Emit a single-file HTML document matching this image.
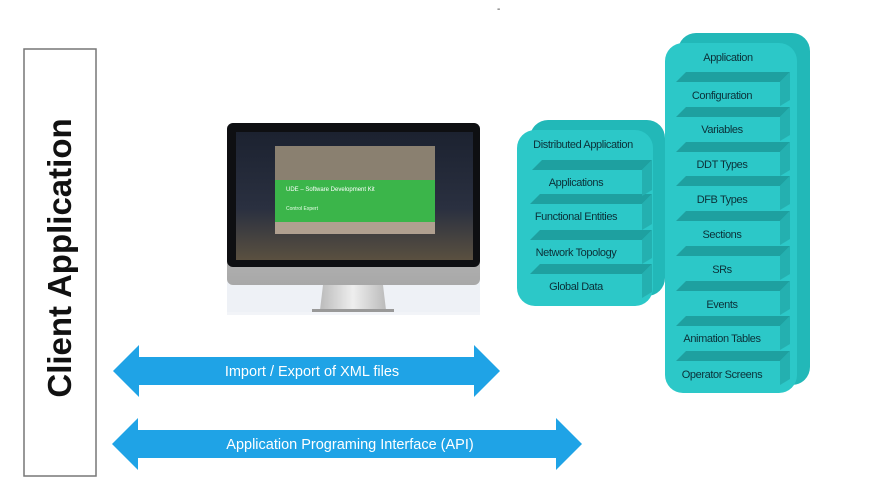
<!DOCTYPE html>
<html><head><meta charset="utf-8"><style>
html,body{margin:0;padding:0;background:#fff;width:880px;height:490px;overflow:hidden}
svg{display:block}
text{font-family:"Liberation Sans",sans-serif}
</style></head><body>
<svg width="880" height="490" viewBox="0 0 880 490" xmlns="http://www.w3.org/2000/svg">
<defs>
<linearGradient id="scr" x1="0" y1="0" x2="0" y2="1"><stop offset="0" stop-color="#1c2230"/><stop offset="0.6" stop-color="#2a3040"/><stop offset="1" stop-color="#5a5040"/></linearGradient>
<linearGradient id="chin" x1="0" y1="0" x2="0" y2="1"><stop offset="0" stop-color="#d8d8d8"/><stop offset="1" stop-color="#a8a8a8"/></linearGradient>
<linearGradient id="stand" x1="0" y1="0" x2="1" y2="0"><stop offset="0" stop-color="#bbb"/><stop offset="0.5" stop-color="#eee"/><stop offset="1" stop-color="#bbb"/></linearGradient>
</defs>
<text x="497" y="12" font-size="10" fill="#333">-</text>
<!-- client box -->
<rect x="24" y="49" width="72" height="427" fill="#fff" stroke="#777" stroke-width="1.5"/>
<text transform="translate(71,258) rotate(-90)" text-anchor="middle" font-size="33" font-weight="bold" fill="#111">Client Application</text>
<!-- monitor -->
<rect x="227" y="311" width="253" height="4" fill="#f2f4f8"/>
<rect x="227" y="268" width="253" height="44" fill="#eef1f6"/>
<polygon points="323,285 383,285 386,310 320,310" fill="url(#stand)"/>
<rect x="312" y="309" width="82" height="3" fill="#999"/>
<rect x="227" y="123" width="253" height="162" rx="6" fill="url(#chin)"/>
<rect x="227" y="123" width="253" height="144" rx="6" fill="#0e0f12"/>
<rect x="236" y="132" width="237" height="128" fill="url(#scr)"/>
<rect x="275" y="146" width="160" height="34" fill="#8a8070"/>
<rect x="275" y="180" width="160" height="42" fill="#3bb54a"/>
<rect x="275" y="222" width="160" height="12" fill="#b0a090"/>
<text x="286" y="191" font-size="6" fill="#fff">UDE – Software Development Kit</text>
<text x="286" y="210" font-size="5" fill="#e8ffe8">Control Expert</text>
<!-- arrows -->
<polygon points="113,371 139,345 139,357 474,357 474,345 500,371 474,397 474,385 139,385 139,397" fill="#1fa3e6"/>
<text x="312" y="376" text-anchor="middle" font-size="14.5" fill="#fff">Import / Export of XML files</text>
<polygon points="112,444 138,418 138,430 556,430 556,418 582,444 556,470 556,458 138,458 138,470" fill="#1fa3e6"/>
<text x="350" y="449" text-anchor="middle" font-size="14.5" fill="#fff">Application Programing Interface (API)</text>
<!-- left stack -->
<rect x="530" y="120" width="135" height="176" rx="18" fill="#22b8b8"/>
<rect x="517" y="130" width="136" height="176" rx="18" fill="#2cc8c8"/>
<g fill="#1ea0a0">
<polygon points="542,160 652,160 642,170 532,170"/><polygon points="540,194 652,194 642,204 530,204"/><polygon points="540,230 652,230 642,240 530,240"/><polygon points="540,264 652,264 642,274 530,274"/>
</g>
<g fill="#24b0b0">
<polygon points="642,170 652,160 652,190 642,196"/><polygon points="642,204 652,194 652,224 642,230"/><polygon points="642,240 652,230 652,258 642,264"/><polygon points="642,274 652,264 652,292 642,298"/>
</g>
<g font-size="11" fill="#0b3038" text-anchor="middle" letter-spacing="-0.4">
<text x="583" y="148">Distributed Application</text>
<text x="576" y="186">Applications</text>
<text x="576" y="220">Functional Entities</text>
<text x="576" y="256">Network Topology</text>
<text x="576" y="290">Global Data</text>
</g>
<!-- right stack -->
<rect x="678" y="33" width="132" height="352" rx="18" fill="#22b8b8"/>
<rect x="665" y="43" width="132" height="350" rx="18" fill="#2cc8c8"/>
<g fill="#1ea0a0">
<polygon points="686,72 790,72 780,82 676,82"/><polygon points="686,107 790,107 780,117 676,117"/><polygon points="686,142 790,142 780,152 676,152"/><polygon points="686,176 790,176 780,186 676,186"/><polygon points="686,211 790,211 780,221 676,221"/><polygon points="686,246 790,246 780,256 676,256"/><polygon points="686,281 790,281 780,291 676,291"/><polygon points="686,316 790,316 780,326 676,326"/><polygon points="686,351 790,351 780,361 676,361"/>
</g>
<g fill="#24b0b0">
<polygon points="780,82 790,72 790,100 780,106"/><polygon points="780,117 790,107 790,135 780,141"/><polygon points="780,152 790,142 790,170 780,176"/><polygon points="780,186 790,176 790,204 780,210"/><polygon points="780,221 790,211 790,239 780,245"/><polygon points="780,256 790,246 790,274 780,280"/><polygon points="780,291 790,281 790,309 780,315"/><polygon points="780,326 790,316 790,344 780,350"/><polygon points="780,361 790,351 790,379 780,385"/>
</g>
<g font-size="11" fill="#0b3038" text-anchor="middle" letter-spacing="-0.4">
<text x="728" y="61">Application</text>
<text x="722" y="99">Configuration</text>
<text x="722" y="133">Variables</text>
<text x="722" y="168">DDT Types</text>
<text x="722" y="203">DFB Types</text>
<text x="722" y="238">Sections</text>
<text x="722" y="273">SRs</text>
<text x="722" y="308">Events</text>
<text x="722" y="342">Animation Tables</text>
<text x="722" y="378">Operator Screens</text>
</g>
</svg>
</body></html>
